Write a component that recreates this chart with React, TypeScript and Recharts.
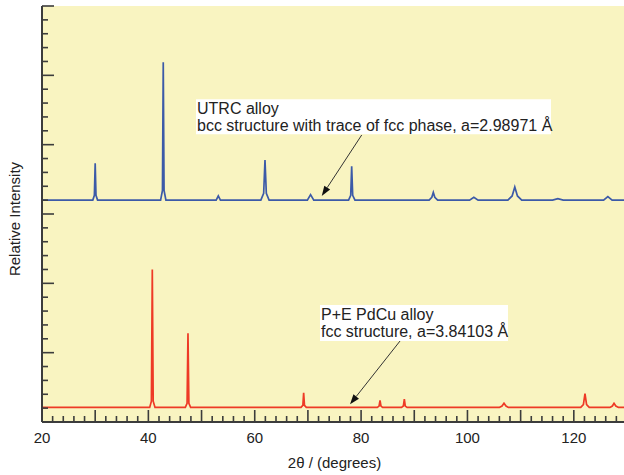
import React from 'react';
import { LineChart, Line, XAxis, YAxis, CartesianGrid, ReferenceDot, ReferenceLine } from 'recharts';

// ---- data (2θ in degrees, relative intensity in plot units) ----
const xTicks = [20, 22, 24, 26, 28, 30, 32, 34, 36, 38, 40, 42, 44, 46, 48, 50, 52, 54, 56, 58, 60, 62, 64, 66, 68, 70, 72, 74, 76, 78, 80, 82, 84, 86, 88, 90, 92, 94, 96, 98, 100, 102, 104, 106, 108, 110, 112, 114, 116, 118, 120, 122, 124, 126, 128, 130];
const xTickLabels = [20, 40, 60, 80, 100, 120];
const xMajorTicks = [20, 30, 40, 50, 60, 70, 80, 90, 100, 110, 120, 130];
const yTicks = [0, 0.2, 0.4, 0.6, 0.8, 1, 1.2, 1.4, 1.6, 1.8, 2, 2.2, 2.4, 2.6, 2.8, 3, 3.2, 3.4, 3.6, 3.8, 4, 4.2, 4.4, 4.6, 4.8, 5, 5.2, 5.4, 5.6, 5.8, 6];
const yMajorTicks = [0, 1, 2, 3, 4, 5, 6];

// UTRC alloy (bcc) pattern, offset upward
const bccProfile: [number, number][] = [
  [20, 3.2],
  [29.55, 3.2], [29.85, 3.27], [30.0, 3.73], [30.15, 3.27], [30.45, 3.2],
  [42.3, 3.2], [42.65, 3.34], [42.8, 5.19], [42.95, 3.34], [43.3, 3.2],
  [52.75, 3.2], [53.15, 3.26], [53.55, 3.2],
  [61.15, 3.2], [61.68, 3.3], [61.93, 3.78], [62.18, 3.3], [62.7, 3.2],
  [69.9, 3.2], [70.5, 3.28], [71.1, 3.2],
  [77.65, 3.2], [78.05, 3.27], [78.23, 3.69], [78.42, 3.27], [78.85, 3.2],
  [92.8, 3.2], [93.3, 3.24], [93.58, 3.31], [93.86, 3.24], [94.4, 3.2],
  [100.4, 3.2], [101.2, 3.24], [102.0, 3.2],
  [107.6, 3.2], [108.4, 3.26], [108.9, 3.39], [109.4, 3.26], [110.2, 3.2],
  [116.0, 3.2], [117.0, 3.22], [118.0, 3.2],
  [125.6, 3.2], [126.4, 3.25], [127.2, 3.2],
  [130, 3.2],
];

// P+E PdCu alloy (fcc) pattern
const fccProfile: [number, number][] = [
  [20, 0.21],
  [40.25, 0.21], [40.57, 0.3], [40.74, 2.2], [40.91, 0.3], [41.25, 0.21],
  [46.95, 0.21], [47.28, 0.27], [47.45, 1.28], [47.62, 0.27], [47.95, 0.21],
  [68.7, 0.21], [69.05, 0.24], [69.2, 0.42], [69.35, 0.24], [69.7, 0.21],
  [83.05, 0.21], [83.38, 0.23], [83.56, 0.31], [83.74, 0.23], [84.05, 0.21],
  [87.6, 0.21], [87.95, 0.23], [88.13, 0.33], [88.31, 0.23], [88.65, 0.21],
  [106.0, 0.21], [106.5, 0.23], [106.87, 0.27], [107.25, 0.23], [107.7, 0.21],
  [121.3, 0.21], [121.8, 0.25], [122.1, 0.41], [122.4, 0.25], [122.9, 0.21],
  [126.8, 0.21], [127.25, 0.23], [127.56, 0.27], [127.9, 0.23], [128.4, 0.21],
  [130, 0.21],
];

const bccLabel = ['UTRC alloy', 'bcc structure with trace of fcc phase, a=2.98971 Å'];
const fccLabel = ['P+E PdCu alloy', 'fcc structure, a=3.84103 Å'];
const bccLabelAnchor = { x: 48.96, y: 4.655 };
const fccLabelAnchor = { x: 72.27, y: 1.6875 };
const bccArrow = [{ x: 80.12, y: 4.14 }, { x: 72.6, y: 3.26 }];
const fccArrow = [{ x: 87.32, y: 1.168 }, { x: 77.92, y: 0.255 }];

const bccData = bccProfile.map(([x, y]) => ({ x, y }));
const fccData = fccProfile.map(([x, y]) => ({ x, y }));

// ---- styles ----
const FONT = '"Liberation Sans", Arial, Helvetica, sans-serif';
const AXIS = '#3c3c3c';
const TEXT = '#222';
const MAJOR = 12;
const MINOR = 6;

const BottomTick = (p: any) => {
  const v = p.payload.value;
  const len = xMajorTicks.includes(v) ? MAJOR : MINOR;
  return (
    <g>
      <line x1={p.x} x2={p.x} y1={p.y} y2={p.y - len} stroke={AXIS} strokeWidth={1.6} />
      {xTickLabels.includes(v) ? (
        <text x={p.x} y={p.y + 21} textAnchor="middle" fontSize={15} fill={TEXT} fontFamily={FONT}>
          {v}
        </text>
      ) : null}
    </g>
  );
};

const TopTick = (p: any) => {
  const v = p.payload.value;
  const len = xMajorTicks.includes(v) ? MAJOR : MINOR;
  return <line x1={p.x} x2={p.x} y1={p.y} y2={p.y + len} stroke={AXIS} strokeWidth={1.6} />;
};

const LeftTick = (p: any) => {
  const v = p.payload.value;
  const len = yMajorTicks.includes(v) ? MAJOR : MINOR;
  return <line x1={p.x} x2={p.x + len} y1={p.y} y2={p.y} stroke={AXIS} strokeWidth={1.6} />;
};

const RightTick = (p: any) => {
  const v = p.payload.value;
  const len = yMajorTicks.includes(v) ? MAJOR : MINOR;
  return <line x1={p.x} x2={p.x - len} y1={p.y} y2={p.y} stroke={AXIS} strokeWidth={1.6} />;
};

const makeBox = (lines: string[], w: number, h: number, b1: number, b2: number) => (p: any) => {
  const { cx, cy } = p;
  if (cx == null || cy == null) return <g />;
  return (
    <g>
      <rect x={cx} y={cy} width={w} height={h} fill="#ffffff" />
      <text x={cx + 1} y={cy + b1} fontSize={16} fill={TEXT} fontFamily={FONT}>{lines[0]}</text>
      <text x={cx + 1} y={cy + b2} fontSize={16} fill={TEXT} fontFamily={FONT}>{lines[1]}</text>
    </g>
  );
};

const ArrowShape = (p: any) => {
  const { x1, y1, x2, y2 } = p;
  if ([x1, y1, x2, y2].some((v) => v == null || isNaN(v))) return <g />;
  const dx = x2 - x1;
  const dy = y2 - y1;
  const L = Math.sqrt(dx * dx + dy * dy);
  const ux = dx / L;
  const uy = dy / L;
  const hl = 10;
  const hw = 3.5;
  const bx = x2 - ux * hl;
  const by = y2 - uy * hl;
  const pts = `${x2},${y2} ${bx - uy * hw},${by + ux * hw} ${bx + uy * hw},${by - ux * hw}`;
  return (
    <g>
      <line x1={x1} y1={y1} x2={bx} y2={by} stroke="#333" strokeWidth={1} />
      <polygon points={pts} fill="#111" />
    </g>
  );
};

export default function App() {
  return (
    <div style={{ position: 'absolute', left: 0, top: 0, width: 624, height: 475, overflow: 'hidden', background: '#fff' }}>
      <LineChart width={640} height={475} margin={{ top: 6, right: 13, bottom: 0, left: 0 }}>
        <CartesianGrid horizontal={false} vertical={false} fill="#f9f4c1" />
        <XAxis
          xAxisId="bottom"
          dataKey="x"
          type="number"
          domain={[20, 130]}
          ticks={xTicks}
          interval={0}
          allowDataOverflow
          height={53}
          tickSize={0}
          tickMargin={0}
          tickLine={false}
          tick={BottomTick}
          axisLine={{ stroke: AXIS, strokeWidth: 2 }}
          label={{
            content: (lp: any) => {
              const vb = lp.viewBox || { x: 42, y: 422, width: 585, height: 53 };
              return (
                <text x={vb.x + vb.width / 2} y={vb.y + 46} textAnchor="middle" fontSize={15} fill={TEXT} fontFamily={FONT}>
                  2θ / (degrees)
                </text>
              );
            },
          }}
        />
        <XAxis
          xAxisId="top"
          orientation="top"
          type="number"
          domain={[20, 130]}
          ticks={xTicks}
          interval={0}
          allowDataOverflow
          height={0}
          tickSize={0}
          tickMargin={0}
          tickLine={false}
          tick={TopTick}
          axisLine={{ stroke: AXIS, strokeWidth: 2 }}
        />
        <YAxis
          yAxisId="left"
          type="number"
          domain={[0, 6]}
          ticks={yTicks}
          interval={0}
          allowDataOverflow
          width={42}
          tickSize={0}
          tickMargin={0}
          tickLine={false}
          tick={LeftTick}
          axisLine={{ stroke: AXIS, strokeWidth: 2 }}
          label={{
            content: (lp: any) => {
              const vb = lp.viewBox || { x: 0, y: 6, width: 42, height: 416 };
              const cx = 20;
              const cy = vb.y + vb.height / 2 + 5;
              return (
                <text x={cx} y={cy} transform={`rotate(-90 ${cx} ${cy})`} textAnchor="middle" fontSize={15} fill={TEXT} fontFamily={FONT}>
                  Relative Intensity
                </text>
              );
            },
          }}
        />
        <YAxis
          yAxisId="right"
          orientation="right"
          type="number"
          domain={[0, 6]}
          ticks={yTicks}
          interval={0}
          allowDataOverflow
          width={0}
          tickSize={0}
          tickMargin={0}
          tickLine={false}
          tick={RightTick}
          axisLine={{ stroke: AXIS, strokeWidth: 2 }}
        />
        <Line
          xAxisId="bottom"
          yAxisId="left"
          data={bccData}
          dataKey="y"
          type="linear"
          stroke="#3c5aa8"
          strokeWidth={1.7}
          dot={false}
          activeDot={false}
          isAnimationActive={false}
        />
        <Line
          xAxisId="bottom"
          yAxisId="left"
          data={fccData}
          dataKey="y"
          type="linear"
          stroke="#ee3a26"
          strokeWidth={1.7}
          dot={false}
          activeDot={false}
          isAnimationActive={false}
        />
        <ReferenceDot
          xAxisId="bottom"
          yAxisId="left"
          x={bccLabelAnchor.x}
          y={bccLabelAnchor.y}
          r={1}
          shape={makeBox(bccLabel, 355, 35, 14.8, 31.3)}
        />
        <ReferenceDot
          xAxisId="bottom"
          yAxisId="left"
          x={fccLabelAnchor.x}
          y={fccLabelAnchor.y}
          r={1}
          shape={makeBox(fccLabel, 188, 36, 15.2, 31.8)}
        />
        <ReferenceLine xAxisId="bottom" yAxisId="left" segment={bccArrow} shape={ArrowShape} />
        <ReferenceLine xAxisId="bottom" yAxisId="left" segment={fccArrow} shape={ArrowShape} />
      </LineChart>
    </div>
  );
}
